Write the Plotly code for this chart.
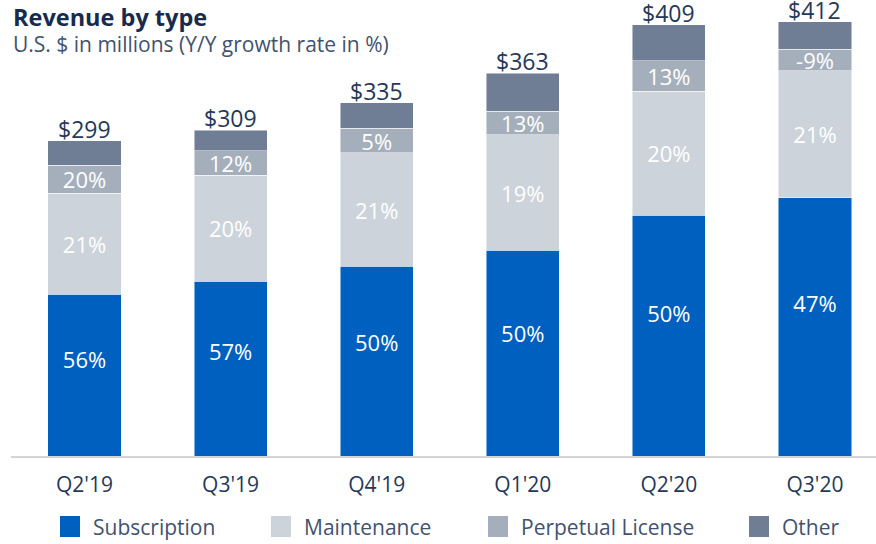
import plotly.graph_objects as go

quarters = ["Q2'19", "Q3'19", "Q4'19", "Q1'20", "Q2'20", "Q3'20"]
subscription = [153.7, 165.7, 180.0, 195.2, 228.4, 244.8]
maintenance = [95.8, 100.6, 107.5, 109.4, 117.9, 120.5]
perpetual = [26.3, 23.1, 23.4, 22.7, 28.5, 20.8]
other = [23.2, 19.6, 24.1, 35.7, 34.2, 25.9]
totals = [299, 309, 335, 363, 409, 412]

growth_sub = [56, 57, 50, 50, 50, 47]
growth_maint = [21, 20, 21, 19, 20, 21]
growth_perp = [20, 12, 5, 13, 13, -9]

series_names = ["Subscription", "Maintenance", "Perpetual License", "Other"]
colors = ["#0060BF", "#CCD3DB", "#A5AFBB", "#6F7D95"]

FONT = "Open Sans"
x = list(range(len(quarters)))

fig = go.Figure()

def add_bar(vals, color, name, labels=None):
    fig.add_trace(go.Bar(
        x=x, y=vals, name=name, width=0.5,
        marker=dict(color=color, line=dict(color="rgba(255,255,255,0.6)", width=0.8)),
        text=[f"{v}%" for v in labels] if labels else None,
        textposition="inside" if labels else "none",
        insidetextanchor="middle",
        constraintext="none",
        textfont=dict(family=FONT, size=22, color="white"),
        textangle=0,
        cliponaxis=False,
        hoverinfo="skip", showlegend=False,
    ))

add_bar(subscription, colors[0], series_names[0])
add_bar(maintenance, colors[1], series_names[1], growth_maint)
add_bar(perpetual, colors[2], series_names[2], growth_perp)
add_bar(other, colors[3], series_names[3])

# subscription growth labels (placed a bit above segment middle, as in the original)
fig.add_trace(go.Scatter(
    x=x, y=[s * 0.58 for s in subscription], mode="text",
    text=[f"{v}%" for v in growth_sub],
    textfont=dict(family=FONT, size=22, color="white"),
    showlegend=False, hoverinfo="skip", cliponaxis=False,
))

W, H = 876, 544
ml, mr, mt, mb = 11, 0, 0, 88
pw, ph = W - ml - mr, H - mt - mb

def px_x(p):
    return (p - ml) / pw

def px_y(p):
    return (H - mb - p) / ph

shapes = []
annotations = [
    dict(text="<b>Revenue by type</b>", x=px_x(11), y=px_y(17), xref="paper", yref="paper",
         xanchor="left", yanchor="middle", showarrow=False,
         font=dict(family=FONT, size=23.5, color="#172B4D")),
    dict(text="U.S. $ in millions (Y/Y growth rate in %)", x=px_x(11), y=px_y(44),
         xref="paper", yref="paper", xanchor="left", yanchor="middle", showarrow=False,
         font=dict(family=FONT, size=21, color="#42526E")),
]

# totals above bars
stack_tops = [s + m + p + o for s, m, p, o in zip(subscription, maintenance, perpetual, other)]
for xi, top, t in zip(x, stack_tops, totals):
    annotations.append(dict(text=f"${t}", x=xi, y=top, xref="x", yref="y",
                            xanchor="center", yanchor="bottom", yshift=-6, showarrow=False,
                            font=dict(family=FONT, size=23, color="#253858")))

legend_swatch_x = [60, 271, 488, 749]
for name, color, sx in zip(series_names, colors, legend_swatch_x):
    shapes.append(dict(type="rect", xref="paper", yref="paper",
                       x0=px_x(sx), x1=px_x(sx + 20), y0=px_y(537), y1=px_y(516),
                       fillcolor=color, line=dict(width=0)))
    annotations.append(dict(text=name, x=px_x(sx + 31), y=px_y(527), xref="paper", yref="paper",
                            xanchor="left", yanchor="middle", showarrow=False,
                            font=dict(family=FONT, size=21, color="#42526E")))

fig.update_layout(
    width=W, height=H,
    margin=dict(l=ml, r=mr, t=mt, b=mb, autoexpand=False),
    barmode="stack", bargap=0.5,
    plot_bgcolor="white", paper_bgcolor="white",
    xaxis=dict(
        range=[-0.503, -0.503 + pw / 146.1],
        tickmode="array", tickvals=x, ticktext=quarters,
        tickfont=dict(family=FONT, size=21, color="#253858"),
        showline=True, linecolor="#D5D5D5", linewidth=2,
        ticks="", showgrid=False, zeroline=False,
        ticklabelstandoff=9, automargin=False,
    ),
    yaxis=dict(range=[0, ph / 1.054], visible=False, showgrid=False, zeroline=False,
               automargin=False),
    shapes=shapes, annotations=annotations,
    showlegend=False,
)

fig.write_html("out.html", config={"displayModeBar": False},
               post_script="document.body.style.margin='0';document.body.style.padding='0';")
